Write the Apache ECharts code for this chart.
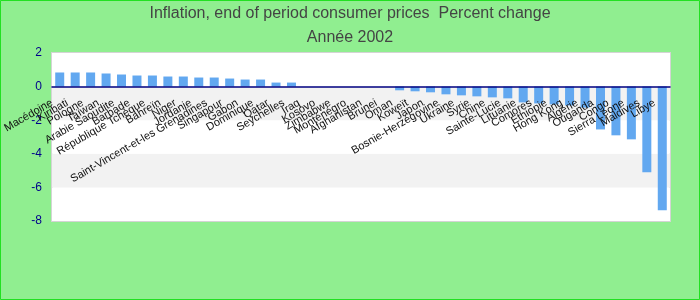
<!DOCTYPE html>
<html>
<head>
<meta charset="utf-8">
<script src="https://cdn.jsdelivr.net/npm/echarts@6/dist/echarts.min.js"></script>
<style>html,body{margin:0;padding:0;background:#90ee90}#c{width:700px;height:300px}</style>
</head>
<body>
<div id="c"></div>
<script>
const titleLine1 = 'Inflation, end of period consumer prices  Percent change';
const titleLine2 = 'Année 2002';
const categories = ['Macédoine','Kiribati','Pologne','Taïwan','Arabie Saoudite','Barbade','République Tchèque','Bahreïn','Niger','Jordanie','Saint-Vincent-et-les Grenadines','Singapour','Gabon','Dominique','Qatar','Seychelles','Iraq','Kosovo','Zimbabwe','Monténégro','Afghanistan','Brunei','Oman','Koweït','Japon','Bosnie-Herzégovine','Ukraine','Syrie','Chine','Sainte-Lucie','Lituanie','Comores','Éthiopie','Hong Kong','Algérie','Ouganda','Congo','Sierra Leone','Maldives','Libye'];
const values = [0.84,0.84,0.84,0.78,0.72,0.66,0.66,0.60,0.60,0.54,0.54,0.48,0.42,0.42,0.24,0.24,null,null,null,null,null,null,-0.22,-0.28,-0.34,-0.46,-0.52,-0.58,-0.64,-0.70,-0.94,-1.0,-1.06,-1.12,-1.25,-2.55,-2.9,-3.14,-5.1,-7.36];
const yMin = -8, yMax = 2, yStep = 2;

const gridTop = 53, gridBottom = 79, H = 300;
const gridHeight = H - gridTop - gridBottom;
const zeroOffset = -gridHeight * (0 - yMin) / (yMax - yMin);

const chart = echarts.init(document.getElementById('c'));
chart.setOption({
  backgroundColor: '#90ee90',
  animation: false,
  graphic: [{type:'rect', shape:{x:0.5,y:0.5,width:699,height:299}, style:{fill:'none', stroke:'#22e022', lineWidth:1}, z:100}],
  title: [
    {text: titleLine1, left: 'center', top: 1, textStyle:{fontFamily:'Liberation Sans Narrow, Liberation Sans', fontSize:16, fontWeight:'normal', color:'#444'}},
    {text: titleLine2, left: 'center', top: 25, textStyle:{fontFamily:'Liberation Sans Narrow, Liberation Sans', fontSize:16, fontWeight:'normal', color:'#444'}}
  ],
  grid: {left:50, right:30, top:gridTop, bottom:gridBottom, show:true, backgroundColor:'#ffffff', borderColor:'#d4d4d4', borderWidth:2},
  xAxis: {
    type:'category', data: categories,
    offset: zeroOffset,
    z: 10,
    axisLine:{onZero:false, lineStyle:{color:'#000080', width:1.5}},
    axisTick:{show:false},
    axisLabel:{interval:0, rotate:30, fontSize:11, color:'#111', fontFamily:'Liberation Sans', margin:11, padding:[0,9,0,0]},
    splitLine:{show:false}
  },
  yAxis: {
    type:'value', min:yMin, max:yMax, interval:yStep,
    axisLine:{show:false}, axisTick:{show:false},
    axisLabel:{color:'#00008b', fontSize:12, fontFamily:'Liberation Sans', margin:10},
    splitLine:{show:false},
    splitArea:{show:true, areaStyle:{color:['#ffffff','#f2f2f2']}}
  },
  series: [{type:'bar', data: values, barWidth:9, itemStyle:{color:'#62a8f0'}}]
});
</script>
</body>
</html>
